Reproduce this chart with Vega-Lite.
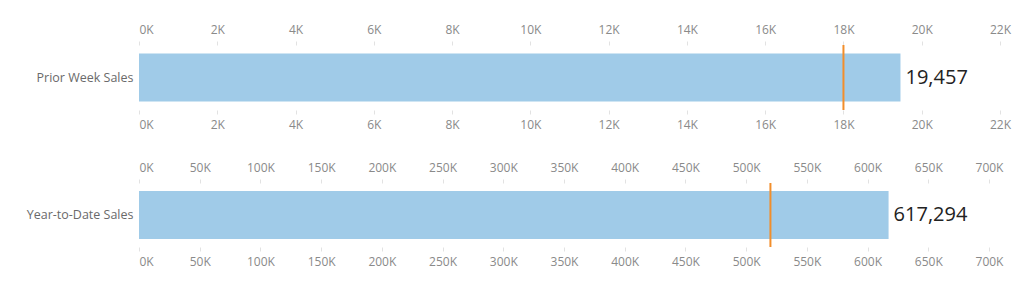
{
  "$schema": "https://vega.github.io/schema/vega-lite/v6.json",
  "padding": {"left": 5, "top": 23, "right": 5, "bottom": 5},
  "spacing": 31,
  "config": {
    "view": {"stroke": null},
    "font": "Open Sans",
    "axis": {
      "grid": false,
      "domain": false,
      "labelFont": "Open Sans",
      "labelFontSize": 12,
      "labelColor": "#8a8a8a",
      "tickColor": "#e2e2e2",
      "tickSize": 4,
      "labelPadding": 5,
      "title": null
    }
  },
  "datasets": {
    "pw": [{"measure": "Prior Week Sales", "value": 19457, "target": 18000}],
    "ytd": [{"measure": "Year-to-Date Sales", "value": 617294, "target": 520000}]
  },
  "vconcat": [
    {
      "width": 861,
      "height": 65,
      "data": {"name": "pw"},
      "layer": [
        {
          "mark": {"type": "bar", "height": 48, "color": "#a0cbe8"},
          "encoding": {
            "y": {"field": "measure", "type": "nominal", "axis": {"ticks": false, "labelPadding": 6, "labelColor": "#6a6a6a", "labelFontSize": 12.5, "minExtent": 134, "maxExtent": 134}},
            "x": {"field": "value", "type": "quantitative", "scale": {"domain": [0, 22000], "nice": false},
                  "axis": {"orient": "top", "values": [0,2000,4000,6000,8000,10000,12000,14000,16000,18000,20000,22000], "labelExpr": "format(datum.value/1000, 'd') + 'K'", "labelAlign": {"condition": {"test": "datum.value == 0", "value": "left"}, "value": "center"}}}
          }
        },
        {
          "mark": {"type": "rule", "color": "#f28e2b", "strokeWidth": 2},
          "encoding": {
            "x": {"field": "target", "type": "quantitative",
                  "axis": {"orient": "bottom", "values": [0,2000,4000,6000,8000,10000,12000,14000,16000,18000,20000,22000], "labelExpr": "format(datum.value/1000, 'd') + 'K'", "labelAlign": {"condition": {"test": "datum.value == 0", "value": "left"}, "value": "center"}}}
          }
        },
        {
          "mark": {"type": "text", "align": "left", "baseline": "middle", "dx": 5, "fontSize": 20, "color": "#222222", "font": "Open Sans"},
          "encoding": {
            "x": {"field": "value", "type": "quantitative", "axis": null},
            "y": {"field": "measure", "type": "nominal"},
            "text": {"field": "value", "type": "quantitative", "format": ","}
          }
        }
      ],
      "resolve": {"axis": {"x": "independent"}}
    },
    {
      "width": 850,
      "height": 64,
      "data": {"name": "ytd"},
      "layer": [
        {
          "mark": {"type": "bar", "height": 48, "color": "#a0cbe8"},
          "encoding": {
            "y": {"field": "measure", "type": "nominal", "axis": {"ticks": false, "labelPadding": 6, "labelColor": "#6a6a6a", "labelFontSize": 12.5, "minExtent": 134, "maxExtent": 134}},
            "x": {"field": "value", "type": "quantitative", "scale": {"domain": [0, 700000], "nice": false},
                  "axis": {"orient": "top", "values": [0,50000,100000,150000,200000,250000,300000,350000,400000,450000,500000,550000,600000,650000,700000], "labelExpr": "format(datum.value/1000, 'd') + 'K'", "labelAlign": {"condition": {"test": "datum.value == 0", "value": "left"}, "value": "center"}}}
          }
        },
        {
          "mark": {"type": "rule", "color": "#f28e2b", "strokeWidth": 2},
          "encoding": {
            "x": {"field": "target", "type": "quantitative",
                  "axis": {"orient": "bottom", "values": [0,50000,100000,150000,200000,250000,300000,350000,400000,450000,500000,550000,600000,650000,700000], "labelExpr": "format(datum.value/1000, 'd') + 'K'", "labelAlign": {"condition": {"test": "datum.value == 0", "value": "left"}, "value": "center"}}}
          }
        },
        {
          "mark": {"type": "text", "align": "left", "baseline": "middle", "dx": 5, "fontSize": 20, "color": "#222222", "font": "Open Sans"},
          "encoding": {
            "x": {"field": "value", "type": "quantitative", "axis": null},
            "y": {"field": "measure", "type": "nominal"},
            "text": {"field": "value", "type": "quantitative", "format": ","}
          }
        }
      ],
      "resolve": {"axis": {"x": "independent"}}
    }
  ]
}
